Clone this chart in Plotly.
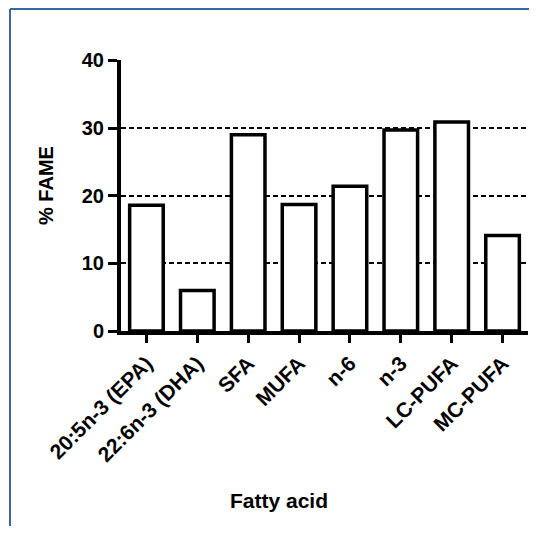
import plotly.graph_objects as go

categories = ["20:5n-3 (EPA)", "22:6n-3 (DHA)", "SFA", "MUFA", "n-6", "n-3", "LC-PUFA", "MC-PUFA"]
values = [18.6, 6.0, 29.0, 18.7, 21.4, 29.7, 30.9, 14.1]
y_ticks = [0, 10, 20, 30, 40]

# figure sits inside the page's default 8px body margin
W, H = 521, 518
L, R, T, B = 113, 1, 52, 195
pw = W - L - R
ph = H - T - B

def px_x(p):
    return (p - L) / pw

def px_y(p):
    return (H - B - p) / ph

font_family = "Liberation Sans, Arial, sans-serif"
frame = dict(color="#3a68a6", width=2)

fig = go.Figure()
fig.add_trace(go.Bar(
    x=categories, y=values, width=0.66,
    marker=dict(color="white", line=dict(color="black", width=3.5)),
))

fig.update_layout(
    width=W, height=H,
    margin=dict(l=L, r=R, t=T, b=B),
    plot_bgcolor="white", paper_bgcolor="white",
    showlegend=False,
    font=dict(family=font_family, color="black"),
    xaxis=dict(
        range=[-0.5, 7.5], showline=True, linewidth=4, linecolor="black",
        ticks="outside", ticklen=8, tickwidth=3, tickcolor="black",
        tickangle=-45, showgrid=False,
        tickfont=dict(family=font_family, size=21, weight="bold", color="black"),
    ),
    yaxis=dict(
        range=[0, 40.05], tickvals=y_ticks, showline=True, linewidth=4, linecolor="black",
        ticks="outside", ticklen=9, tickwidth=3, tickcolor="black",
        showgrid=True, gridcolor="black", gridwidth=2, griddash="5px,3px",
        zeroline=False,
        tickfont=dict(family=font_family, size=20, weight="bold", color="black"),
    ),
    annotations=[
        dict(text="% FAME", xref="paper", yref="paper", x=px_x(38), y=px_y(178),
             textangle=-90, showarrow=False, xanchor="center", yanchor="middle",
             font=dict(family=font_family, size=20, weight="bold", color="black")),
        dict(text="Fatty acid", xref="paper", yref="paper", x=px_x(271), y=px_y(492),
             showarrow=False, xanchor="center", yanchor="middle",
             font=dict(family=font_family, size=21, weight="bold", color="black")),
    ],
    shapes=[
        dict(type="line", xref="paper", yref="paper",
             x0=px_x(2), x1=px_x(W), y0=px_y(1), y1=px_y(1),
             line=frame, layer="above"),
        dict(type="line", xref="paper", yref="paper",
             x0=px_x(2), x1=px_x(2), y0=px_y(1), y1=px_y(H),
             line=frame, layer="above"),
    ],
)

fig.write_html("out.html")
